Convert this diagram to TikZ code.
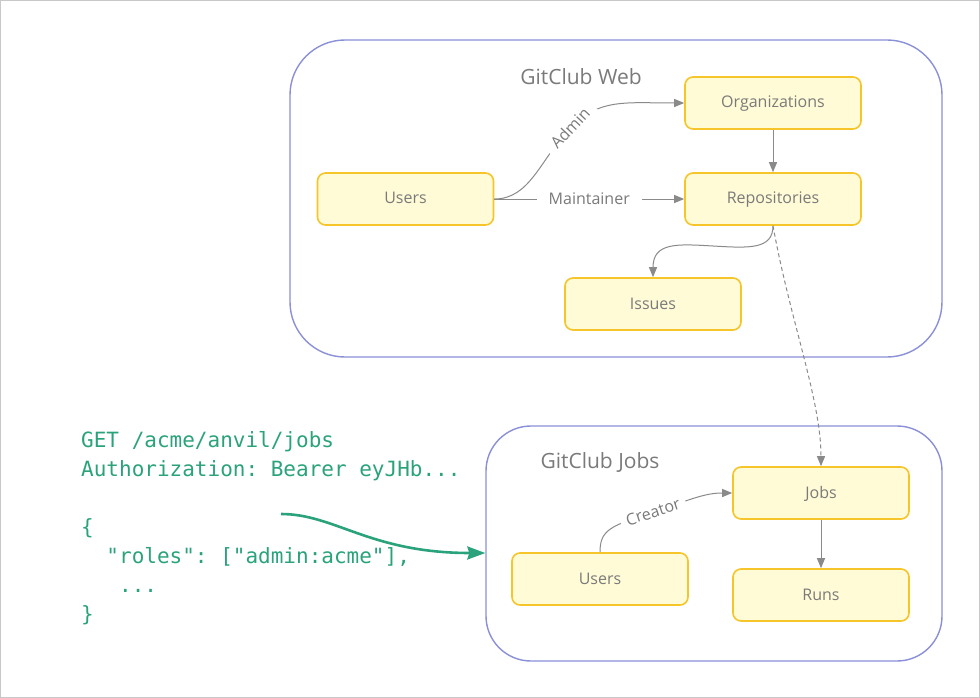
\documentclass[tikz,border=0pt]{standalone}
\usepackage{fontspec}
\setmainfont{Open Sans}
\setmonofont{DejaVu Sans Mono}
\usetikzlibrary{arrows.meta}

\definecolor{framegray}{HTML}{C8C8C8}
\definecolor{zoneline}{HTML}{8A90D8}
\definecolor{boxline}{HTML}{F5C52A}
\definecolor{boxfill}{HTML}{FFFBD6}
\definecolor{labelgray}{HTML}{7A7A7A}
\definecolor{edgegray}{HTML}{8A8A8A}
\definecolor{codegreen}{HTML}{2AA27C}

\tikzset{
  zone/.style={draw=zoneline, line width=1.4pt, fill=white},
  zonetitle/.style={text=labelgray, font=\fontsize{21}{25}\selectfont, inner sep=0pt},
  entity/.style={draw=boxline, fill=boxfill, line width=1.6pt, rounded corners=8pt,
    minimum width=176pt, minimum height=52pt, inner sep=0pt, text=labelgray,
    text height=13pt, text depth=3pt, font=\fontsize{16}{19}\selectfont},
  edge/.style={draw=edgegray, line width=1pt, -{Triangle[length=10pt,width=8pt]}},
  rel/.style={fill=white, text=labelgray, inner xsep=12pt, inner ysep=3pt,
    font=\fontsize{16}{19}\selectfont},
  token/.style={draw=codegreen, line width=2.6pt, -{Stealth[length=18pt,width=13pt,inset=2pt]}},
  code/.style={text=codegreen, font=\ttfamily\fontsize{21}{29}\selectfont, align=left,
    inner sep=0pt}
}

\begin{document}
\begin{tikzpicture}[x=1pt,y=-1pt]
\useasboundingbox (0,0) rectangle (980,698);
\draw[framegray, line width=1pt] (0.5,0.5) rectangle (979.5,697.5);

% service boundaries
\node[zone, rounded corners=55pt, minimum width=652pt, minimum height=317pt] (web) at (616,198.5) {};
\node[zone, rounded corners=45pt, minimum width=456pt, minimum height=235pt] (jobszone) at (714,543.5) {};
\node[zonetitle] (webtitle) at (581,77) {GitClub Web};
\node[zonetitle] (jobstitle) at (600,462) {GitClub Jobs};

% GitClub Web resources
\node[entity] (wusers) at (405.5,199) {Users};
\node[entity] (orgs) at (773,103) {Organizations};
\node[entity] (repos) at (773,199) {Repositories};
\node[entity] (issues) at (653,304) {Issues};

% GitClub Jobs resources
\node[entity] (jobs) at (821,493) {Jobs};
\node[entity] (jusers) at (600,579) {Users};
\node[entity] (runs) at (821,595) {Runs};

% relations inside GitClub Web
\draw[edge] (wusers.east) .. controls (530,199) and (540,160) .. (570,128)
  node[rel, sloped, pos=1, inner xsep=8pt] {Admin}
  .. controls (600,98) and (625,103) .. (orgs.west);
\draw[edge] (wusers.east) -- node[rel] {Maintainer} (repos.west);
\draw[edge] (orgs.south) -- (repos.north);
\draw[edge] (repos.south) .. controls (773,250) and (748,248) .. (713,246)
  .. controls (678,244) and (653,242) .. (issues.north);

% cross-service relation
\draw[edge, dash pattern=on 4pt off 3pt] (repos.south) .. controls (790,320) and (821,400) .. (jobs.north);

% relations inside GitClub Jobs
\draw[edge] (jusers.north) .. controls (600,530) and (610,526) .. (653,512)
  node[rel, sloped, pos=1, inner xsep=6pt] {Creator}
  .. controls (692,499) and (705,493) .. (jobs.west);
\draw[edge] (jobs.south) -- (runs.north);

% request with token
\node[code, anchor=north west] (request) at (81,431) {GET /acme/anvil/jobs\\
Authorization: Bearer eyJHb...\\
\mbox{}\\
\{\\
\phantom{xx}"roles": ["admin:acme"],\\
\phantom{xxx}...\\
\}};
\coordinate (tokenfrom) at (281,514);
\draw[token] (tokenfrom) .. controls (335,514) and (370,553) .. ([yshift=-9.5pt]jobszone.west);
\end{tikzpicture}
\end{document}
